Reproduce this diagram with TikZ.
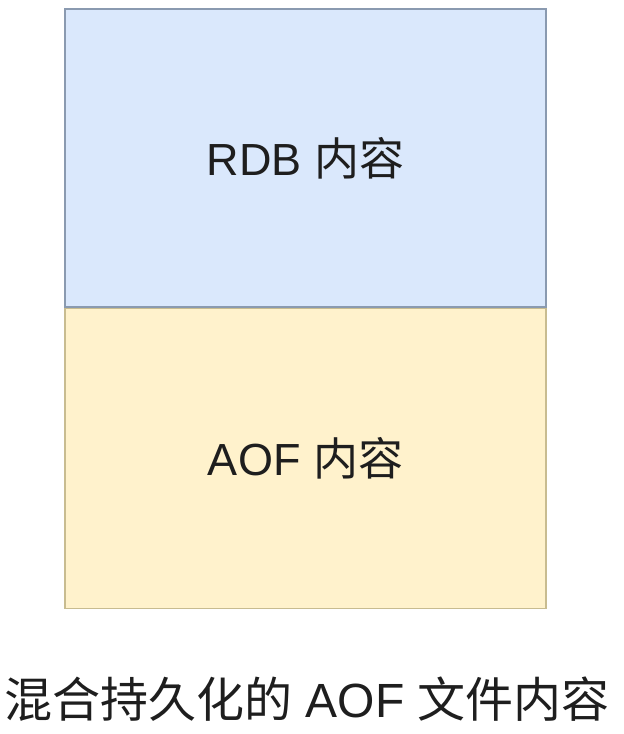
\documentclass[tikz,border=0pt]{standalone}
\usepackage{fontspec}
\setmainfont{Liberation Sans}
\newfontfamily\cjk{Noto Sans CJK SC}
\usetikzlibrary{positioning}
\definecolor{rdbfill}{HTML}{DAE8FC}
\definecolor{rdbline}{HTML}{8A9AB0}
\definecolor{aoffill}{HTML}{FFF2CC}
\definecolor{aofline}{HTML}{C8BC90}
\definecolor{textcol}{HTML}{1E1E1E}

\begin{document}
\begin{tikzpicture}[%
x=1pt,y=-1pt,
node distance=2cm,
align=center,
text=textcol
]
\useasboundingbox (0,0) rectangle (624,734);
\node[rectangle, draw=rdbline, fill=rdbfill, line width=1.2pt, minimum width=481pt, minimum height=298pt, font=\fontsize{45}{50}\selectfont] (0) at (305.5,158) {RDB {\cjk 内容}};
\node[rectangle, draw=aofline, fill=aoffill, line width=1.2pt, minimum width=481pt, minimum height=300pt, font=\fontsize{45}{50}\selectfont] (1) [below=0pt of 0] {AOF {\cjk 内容}};
\node[font=\fontsize{48}{52}\selectfont, inner sep=0pt] (2) at (307,699) {{\cjk 混合持久化的} AOF {\cjk 文件内容}};
\end{tikzpicture}
\end{document}
